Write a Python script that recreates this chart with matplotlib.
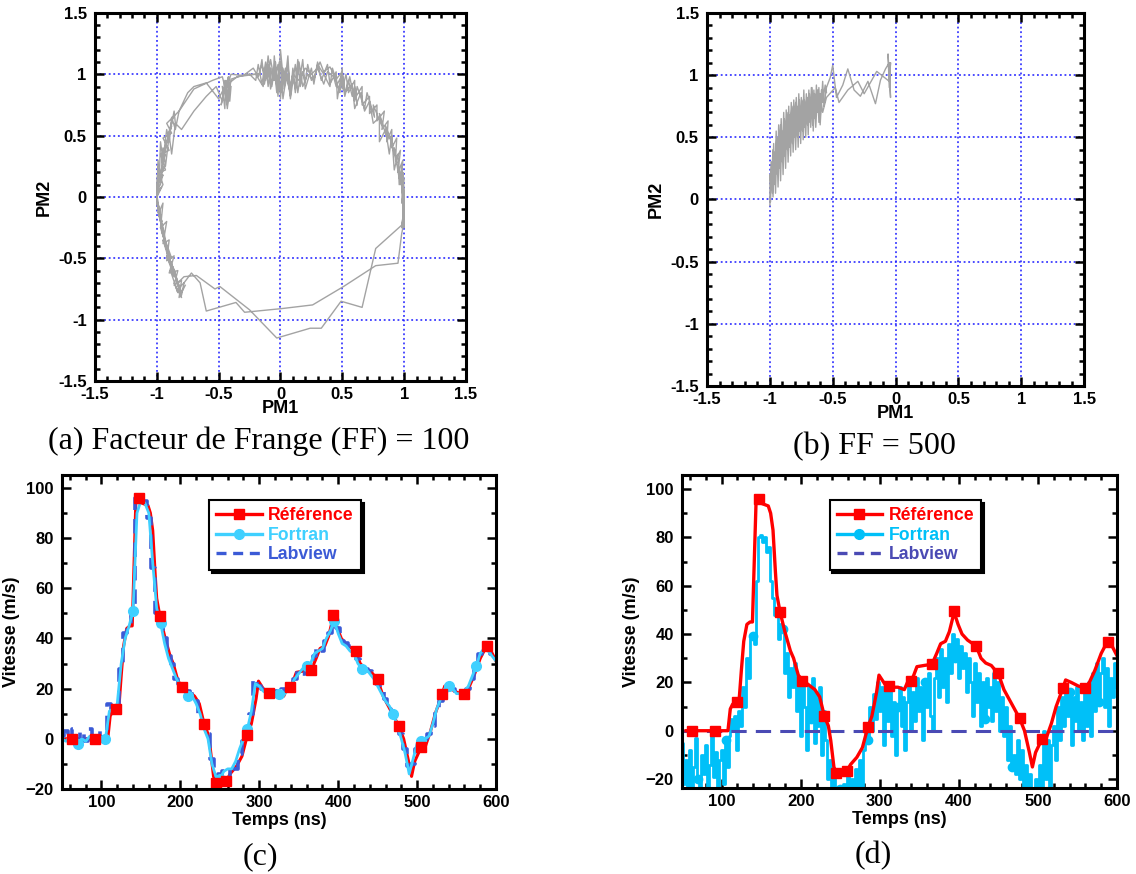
import numpy as np
import matplotlib
matplotlib.use("Agg")
import matplotlib.pyplot as plt
from matplotlib.lines import Line2D
from matplotlib.ticker import MultipleLocator

plt.rcParams['font.family'] = ['Liberation Sans', 'DejaVu Sans']
nan = np.nan

# ---------------- data : (a) FF = 100, PM1 / PM2 loop ----------------
pm1_a = [0.98, 1.0, 0.99, 1.0, 0.98, 1.0, 0.97, 0.99, 0.95, 0.97, 0.93, 0.94, 0.9, 0.9, 0.86, 0.87, 0.82, 0.84,
         0.78, 0.78, 0.72, 0.72, 0.66, 0.66, 0.6, 0.6, 0.55, 0.53, 0.5, 0.5, 0.46, 0.45, 0.4, 0.38, 0.33, 0.3,
         0.27, 0.25, 0.2, 0.18, 0.14, 0.12, 0.08, 0.06, 0.03, 0.0, -0.02, -0.04, -0.07, -0.1, -0.12, -0.15,
         -0.18, -0.22, -0.3, -0.4, -0.45, -0.42, -0.48, -0.45, -0.5, -0.6, -0.7, -0.75, -0.82, -0.85, -0.88,
         -0.9, -0.92, -0.95, -0.97, -0.98, -0.99, -1.0, -0.98, -1.0, -0.97, -0.99, -0.95, -0.97, -0.92, -0.95,
         -0.88, -0.92, -0.85, -0.88, -0.82, -0.85, -0.8, -0.78, -0.72, -0.65, -0.6, -0.36, -0.29, 0.01, 0.26,
         0.51, 0.77, 0.95, 0.98, 1.0,
         0.99, 1.0, 0.98, 1.0, 0.97, 0.99, 0.95, 0.96, 0.92, 0.94, 0.88, 0.91, 0.85, 0.86, 0.8, 0.82, 0.75, 0.76,
         0.7, 0.68, 0.62, 0.6, 0.56, 0.52, 0.5, 0.48, 0.42, 0.4, 0.35, 0.3, 0.27, 0.22, 0.18, 0.15, 0.12, 0.1,
         0.08, 0.05, 0.02, 0.0, -0.03, -0.05, -0.08, -0.1, -0.13, -0.15, -0.17, -0.28, -0.4, -0.43, -0.45, -0.47,
         -0.52, -0.6, -0.7, -0.8, -0.85, -0.88, -0.9, -0.93, -0.95, -0.97, -0.99, -1.0, -0.99, -0.96, -0.98,
         -0.93, -0.96, -0.9, -0.93, -0.87, -0.9, -0.83, -0.86, -0.8, -0.83, -0.78, -0.68, -0.53, -0.49, -0.25,
         -0.03, 0.24, 0.33, 0.49, 0.66, 0.77, 0.98, 1.0,
         0.99, 1.0, 0.98, 0.96, 0.95, 0.92, 0.9, 0.88, 0.85, 0.8, 0.8, 0.75, 0.72, 0.68, 0.65, 0.6, 0.58, 0.52,
         0.5, 0.45, 0.43, 0.38, 0.35, 0.3, 0.25, 0.2, 0.15, 0.1, 0.07, 0.04, 0.0, -0.02, -0.05, -0.08, -0.1,
         -0.12, -0.14, -0.2, -0.35, -0.45, -0.47, -0.55, -0.7, -0.82, -0.92, -0.88, -0.95, -0.9, -0.97, -0.93,
         -0.98, -0.95, -1.0, -0.98, -0.95, -0.97, -0.92, -0.95, -0.9, -0.92, -0.86, -0.9, -0.83, -0.86, -0.8,
         -0.82, -0.77, nan,
         -0.25, -0.2, -0.18, -0.15, -0.12, -0.1, -0.08, -0.06, -0.05, -0.03, -0.01, 0.0, 0.02, 0.04, 0.06, 0.08,
         0.1, 0.12, 0.14, 0.16, 0.18, 0.2, 0.22, 0.25, 0.28, 0.32, 0.35, 0.4, 0.45, 0.5, 0.52, 0.55, 0.58, 0.6,
         0.62, nan,
         -1.0, -0.96, -0.99, -0.95, -0.98, -0.94, -0.97, -0.93, -0.96, -0.92, -0.95, -0.9, -0.93, -0.88, -0.91,
         -0.87, -0.89, -0.86, -0.85, nan,
         -1.0, -0.97, -0.99, -0.94, -0.97, -0.92, -0.95, -0.89, -0.92, -0.86, -0.89, -0.83, -0.86, -0.8, -0.83,
         -0.78, nan,
         -0.47, -0.45, -0.44, -0.43, -0.42, -0.41, -0.4]
pm2_a = [-0.25, -0.1, -0.2, 0.05, -0.05, 0.15, 0.1, 0.3, 0.2, 0.38, 0.3, 0.48, 0.4, 0.55, 0.45, 0.62, 0.55, 0.7,
         0.62, 0.75, 0.68, 0.82, 0.75, 0.9, 0.8, 0.95, 0.85, 1.0, 0.88, 1.05, 0.8, 1.02, 0.92, 1.08, 0.95, 1.1,
         0.92, 1.05, 0.88, 1.12, 0.85, 1.08, 0.8, 1.15, 0.88, 1.2, 0.82, 1.1, 0.9, 1.15, 0.95, 1.08,
         0.98, 1.05, 0.99, 1.0, 0.85, 0.98, 0.75, 0.9, 0.8, 0.93, 0.9, 0.85, 0.7, 0.55, 0.65,
         0.45, 0.55, 0.3, 0.45, 0.15, 0.3, 0.0, 0.2, -0.05, -0.15, -0.05, -0.3, -0.2, -0.42, -0.3,
         -0.5, -0.45, -0.62, -0.55, -0.75, -0.65, -0.8, -0.7, -0.62, -0.7, -0.93, -0.86, -0.94, -0.91, -0.88,
         -0.73, -0.56, -0.54, -0.3, -0.2,
         0.0, -0.25, 0.1, -0.1, 0.2, 0.05, 0.25, 0.15, 0.4, 0.28, 0.5, 0.42, 0.58, 0.48, 0.68, 0.58, 0.75, 0.65,
         0.85, 0.72, 0.9, 0.78, 0.98, 0.82, 0.98, 0.85, 1.05, 0.9, 1.0, 1.08, 0.95, 1.0, 0.9, 1.1, 0.85, 1.05,
         0.82, 1.0, 0.8, 1.1, 0.85, 1.05, 0.88, 1.08, 0.92, 1.12, 1.0, 1.0, 0.96, 0.72, 0.95, 0.78,
         0.9, 0.82, 0.7, 0.55, 0.6, 0.35, 0.5, 0.25, 0.4, 0.1, 0.25, 0.05, -0.1, -0.2, -0.1,
         -0.35, -0.28, -0.48, -0.4, -0.58, -0.5, -0.7, -0.6, -0.78, -0.7, -0.65, -0.64, -0.75, -0.73, -0.92,
         -1.15, -1.07, -1.07, -0.85, -0.9, -0.42, -0.23, -0.1,
         0.2, 0.0, 0.25, 0.1, 0.35, 0.22, 0.5, 0.35, 0.55, 0.45, 0.65, 0.6, 0.78, 0.7, 0.85, 0.72, 0.92, 0.85,
         1.0, 0.9, 0.98, 1.02, 0.92, 1.05, 1.0, 1.05, 0.95, 1.0, 0.88, 1.05, 0.85, 1.08, 0.95, 1.12, 0.98,
         1.05, 0.9, 1.0, 0.98, 0.9, 0.98, 0.95, 0.88, 0.7, 0.6, 0.52, 0.48, 0.38, 0.35, 0.22,
         0.2, 0.1, 0.02, -0.12, -0.05, -0.25, -0.2, -0.38, -0.35, -0.52, -0.48, -0.62, -0.6, -0.72, -0.68,
         -0.82, -0.72, nan,
         1.0, 0.95, 1.08, 0.92, 1.1, 0.9, 1.05, 0.95, 1.15, 0.9, 1.1, 0.8, 1.05, 0.92, 1.08, 0.85,
         1.0, 0.88, 1.12, 0.9, 1.02, 0.93, 1.08, 0.95, 1.0, 1.1, 1.02, 1.06, 0.96, 1.02, 0.85, 0.95, 0.82, 0.9,
         0.75, nan,
         0.0, 0.08, 0.05, 0.18, 0.12, 0.25, 0.2, 0.35, 0.28, 0.42, 0.35, 0.5, 0.42, 0.58, 0.5,
         0.65, 0.55, 0.7, 0.6, nan,
         -0.05, -0.2, -0.12, -0.3, -0.25, -0.42, -0.35, -0.55, -0.48, -0.65, -0.6, -0.78, -0.7, -0.82, -0.75,
         -0.7, nan,
         0.9, 0.72, 0.95, 0.75, 0.98, 0.78, 0.9]

# ---------------- data : (b) FF = 500 ----------------
pm1_b = [-1.0, -0.99, -0.98, -0.97, -0.96, -0.95, -0.94, -0.93, -0.92, -0.91, -0.9, -0.89, -0.88, -0.87, -0.86,
         -0.85, -0.84, -0.83, -0.82, -0.81, -0.8, -0.79, -0.78, -0.77, -0.76, -0.75, -0.74, -0.73, -0.72, -0.71,
         -0.7, -0.69, -0.68, -0.67, -0.66, -0.65, -0.64, -0.63, -0.62, -0.61, -0.6, -0.58, -0.57, -0.55,
         -0.52, -0.5, -0.47, -0.42, -0.38, -0.33, -0.28, -0.22, -0.16, -0.12, -0.08, -0.05, -0.04, -0.06, -0.05,
         -0.04, -0.05,
         -0.15, -0.25, -0.3, -0.38, -0.45, -0.48, -0.55, -0.58, -0.6,
         -0.61, -0.62, -0.635, -0.645, -0.655, -0.665, -0.675, -0.685, -0.695, -0.705, -0.715, -0.725, -0.735,
         -0.745, -0.755, -0.765, -0.775, -0.785, -0.795, -0.805, -0.815, -0.825, -0.835, -0.845, -0.855, -0.865,
         -0.875, -0.885, -0.895, -0.905, -0.915, -0.925, -0.935, -0.945, -0.955, -0.965, -0.975, -0.985, -0.995,
         -1.0,
         -0.99, -0.975, -0.96, -0.945, -0.93, -0.915, -0.9, -0.885, -0.87, -0.855, -0.84, -0.825, -0.81, -0.795,
         -0.78, -0.765, -0.75, -0.735, -0.72, -0.705, -0.69, -0.675, -0.66, -0.645, -0.63, -0.615, -0.6, -0.59,
         -0.58, -0.56, -0.55]
pm2_b = [-0.05, 0.3, 0.05, 0.45, 0.12, 0.55, 0.2, 0.6, 0.25, 0.65, 0.3, 0.7, 0.35, 0.72, 0.4,
         0.75, 0.42, 0.78, 0.45, 0.8, 0.5, 0.82, 0.5, 0.85, 0.55, 0.82, 0.55, 0.88, 0.58, 0.85,
         0.6, 0.88, 0.62, 0.9, 0.6, 0.88, 0.65, 0.92, 0.7, 0.9, 0.6, 0.95, 0.75, 0.9,
         0.98, 1.08, 0.82, 0.92, 1.05, 0.88, 0.83, 0.95, 0.77, 0.96, 1.05, 1.1, 0.82, 1.17, 0.9,
         1.1, 0.95,
         1.03, 0.85, 0.95, 0.88, 0.78, 0.9, 0.82, 0.7, 0.85,
         0.62, 0.88, 0.58, 0.85, 0.55, 0.9, 0.58, 0.85, 0.52, 0.82, 0.5, 0.8, 0.48,
         0.78, 0.45, 0.8, 0.42, 0.75, 0.4, 0.72, 0.38, 0.7, 0.35, 0.68, 0.3, 0.65,
         0.25, 0.6, 0.2, 0.55, 0.15, 0.5, 0.1, 0.45, 0.05, 0.38, 0.02, 0.3, -0.02,
         0.2,
         0.1, 0.4, 0.2, 0.5, 0.3, 0.6, 0.4, 0.65, 0.45, 0.7, 0.5, 0.75, 0.55, 0.78,
         0.6, 0.75, 0.62, 0.8, 0.65, 0.82, 0.68, 0.8, 0.7, 0.85, 0.72, 0.82, 0.65, 0.88,
         0.78, 0.92, 0.86]

# ---------------- data : (c) / (d) velocity vs time ----------------
ref_t = [55, 63, 92, 108, 111, 114, 119, 122, 125, 128, 132, 136, 139, 143.6, 147, 151, 159, 162, 165, 168,
         170, 174, 180, 187, 191, 197, 202, 210, 218, 224, 230, 235, 238, 242, 245, 258, 263, 271, 278, 285,
         290, 296, 299, 303, 307, 312, 323, 331, 335, 339, 343, 347, 356, 366, 372, 377, 383, 388, 394, 399,
         404, 411, 422, 428, 434, 441, 450, 457, 466, 472, 477, 483, 489, 493, 497, 505, 510, 517, 523, 532,
         535, 542, 551, 560, 565, 572, 580, 588, 593, 600]
ref_v = [0, 0, 0, 0, 9, 11, 12, 12, 25, 37, 44, 45, 45, 95, 96, 94, 93, 90, 83, 66,
         56, 49, 41, 33, 30, 23, 21, 19, 17, 14, 6, 2, -4, -15, -17.5, -17, -14, -11, -7, 1.5,
         6, 16, 23, 21, 19, 18, 18, 17, 20, 20, 23, 26.5, 27, 27.5, 32, 36, 37, 41, 49, 44,
         40, 37.5, 35, 30, 28, 27, 23.5, 17, 11.6, 8, 5, 0, -8.7, -15, -9, -3.5, -3.5, 3, 10, 18,
         21, 20, 18.5, 17.6, 20, 25, 32, 37, 35.5, 31]
ref_mark_t = [63, 92, 119, 147, 174, 202, 230, 245, 258, 285, 312, 339, 366, 394, 422, 450, 477, 505, 532, 560, 588]
ref_mark_v = [0, 0, 12, 96, 49, 20.7, 6, -17.5, -16.8, 1.5, 18.3, 20.5, 27.4, 49.5, 35, 23.7, 5.2, -3.4, 17.8, 17.8, 36.9]

t5 = np.arange(50, 601, 5)
labview_c = [1, 3, -1, 4, 0, 3, -1, 4, 1, 3, 0, 2, 14, 12, 13, 28, 42, 44, 52, 96,
             97, 95, 88, 68, 50, 45, 40, 33, 30, 24, 22, 20, 19, 18, 15, 10, 5, 2, -8, -15,
             -14, -13, -16, -11, -12, -6, -1, 4, 10, 24, 21, 20, 19, 18, 19, 18, 20, 19, 21, 24,
             27, 26, 29, 30, 33, 36, 35, 39, 42, 47, 44, 39, 38, 37, 36, 32, 30, 28, 27, 25,
             22, 19, 16, 12, 9, 6, 2, -4, -11, -10, -4, -1, 0, 2, 5, 12, 15, 19, 20, 20,
             18, 18, 18, 20, 24, 29, 34, 37, 36, 34, 32]
fortran_c = [0, -1, 1, -2, -2, 0, -1, 1, 0, 1, -1, 0, 11, 12, 14, 30, 40, 45, 51, 90,
             95, 94, 90, 70, 52, 46, 38, 32, 28, 24, 21, 19, 17, 17, 14, 10, 4, 0, -10, -15,
             -16, -13, -12, -12, -9, -4, 0, 4, 11, 22, 21, 19, 18, 17, 18, 18, 17, 19, 21, 24,
             26, 28, 29, 30, 34, 35, 36, 40, 43, 47, 42, 38, 37, 35, 34, 30, 28, 28, 26, 24,
             21, 18, 15, 13, 10, 5, 0, -6, -14, -8, -2, -1, 0, 1, 6, 12, 16, 20, 21, 20,
             18, 18, 19, 21, 25, 29, 34, 36, 35, 33, 31]
fortran_c_marks = [70, 105, 140, 175, 210, 250, 285, 325, 360, 395, 430, 470, 505, 540, 575]

t25 = np.arange(50, 600.1, 2.5)
fortran_d = [-5, -22, -12, -24, -8, -26, -15, -3, -20, -28, -10, -18, -6, -24, -14, -2, -19, -9, -27, -12,
             -8, -22, -4, -15, -2, 5, 0, 6, -8, 8, 2, 18, 10, 30, 22, 38, 39, 36, 62, 80,
             81, 78, 80, 74, 76, 62, 55, 48, 50, 38, 44, 42, 24, 32, 14, 26, 18, 28, 8, 22,
             -2, 20, 10, -8, 18, 5, 22, -5, 15, 2, 18, -10, 8, -4, -20, -12, -26, -18, -24, -28,
             -24, -30, -22, -27, -18, -28, -20, -25, -16, -28, -12, -26, -8, 2, -4, 10, 0, 15, 5, 20,
             8, 18, -6, 16, 4, 20, -2, 12, -10, 10, 18, 2, 14, -8, 12, 20, 0, 16, 4, 22,
             8, 18, -4, 20, 10, 24, 6, 0, 22, 30, 14, 34, 18, 30, 12, 36, 24, 40, 30, 38,
             22, 35, 26, 32, 16, 30, 20, 6, 28, 12, 24, 2, 20, 5, 22, 10, 18, 4, 24, 8,
             20, 0, 14, -2, 10, -12, 2, -15, -10, -18, -4, -20, -8, -26, -14, -30, -18, -24, -28, -20,
             -26, -14, -30, 0, -20, -4, -26, -6, 2, -12, 10, -4, 14, 2, 18, 6, 16, -6, 14, 4,
             18, 0, 12, -4, 16, 2, 20, -2, 24, 8, 28, 12, 24, 30, 10, 26, 2, 22, 14, 28, 18]
fortran_d_marks = [70, 105, 140, 177.5, 212.5, 250, 285, 322.5, 357.5, 395, 432.5, 467.5, 505, 540, 577.5]
labview_d = [0, 0]
labview_d_t = [50, 600]

panel_labels = ['(a) Facteur de Frange (FF) = 100', '(b) FF = 500', '(c)', '(d)']

# ---------------- figure ----------------
fig = plt.figure(figsize=(11.36, 8.74), dpi=100)
ax_a = fig.add_axes([0.0836, 0.5641, 0.3266, 0.4211])
ax_b = fig.add_axes([0.6224, 0.5584, 0.3319, 0.4268])
ax_c = fig.add_axes([0.0546, 0.0973, 0.3820, 0.3593])
ax_d = fig.add_axes([0.6004, 0.0984, 0.3829, 0.3581])

lab_font = dict(fontsize=13, fontweight='bold')


def frame(ax):
    for s in ax.spines.values():
        s.set_linewidth(2.2)
    ax.tick_params(which='both', direction='in', top=True, right=True, width=1.8)
    ax.tick_params(which='major', length=6.5)
    ax.tick_params(which='minor', length=3.8)
    ax.tick_params(axis='y', pad=6)
    ax.tick_params(axis='x', pad=4)
    for lbl in ax.get_xticklabels() + ax.get_yticklabels():
        lbl.set_fontsize(12)
        lbl.set_fontweight('bold')


# (a) and (b) : phase plots
for ax, x, y in [(ax_a, pm1_a, pm2_a), (ax_b, pm1_b, pm2_b)]:
    ax.plot(x, y, color='#a3a3a3', lw=1.0)
    ax.set_xlim(-1.5, 1.5)
    ax.set_ylim(-1.5, 1.5)
    ax.xaxis.set_minor_locator(MultipleLocator(0.1))
    ax.yaxis.set_minor_locator(MultipleLocator(0.1))
    ax.set_xticks([-1.5, -1, -0.5, 0, 0.5, 1, 1.5])
    ax.set_xticklabels(['-1.5', '-1', '-0.5', '0', '0.5', '1', '1.5'])
    ax.set_yticks([-1.5, -1, -0.5, 0, 0.5, 1, 1.5])
    ax.set_yticklabels(['-1.5', '-1', '-0.5', '0', '0.5', '1', '1.5'])
    ax.grid(True, which='major', color='#1a1aff', lw=1.1, linestyle=(0, (1.2, 1.8)))
    ax.set_xlabel('PM1', labelpad=-1, **lab_font)
    ax.set_ylabel('PM2', labelpad=4, **lab_font)
    frame(ax)

# (c) : all three methods agree
ax_c.plot(ref_t, ref_v, color='#ff0000', lw=2.2)
ax_c.plot(t5, labview_c, color='#3b5ad6', lw=2.6, dashes=(4, 2.5), drawstyle='steps-mid')
fm_c = [int(np.argmin(np.abs(t5 - m))) for m in fortran_c_marks]
ax_c.plot(t5, fortran_c, color='#3fd0ff', lw=2.0, marker='o', markersize=7, markevery=fm_c)
ax_c.plot(ref_mark_t, ref_mark_v, 's', color='#ff0000', markersize=7.5)

# (d) : FF = 500
fm_d = [int(np.argmin(np.abs(t25 - m))) for m in fortran_d_marks]
ax_d.plot(t25, fortran_d, color='#00c0f8', lw=2.0, drawstyle='steps-mid')
ax_d.plot(t25[fm_d], np.array(fortran_d)[fm_d], 'o', color='#00c0f8', markersize=6)
ax_d.plot(labview_d_t, labview_d, color='#4a4ab4', lw=2.2, dashes=(5, 3))
ax_d.plot(ref_t, ref_v, color='#ff0000', lw=2.4)
ax_d.plot(ref_mark_t, ref_mark_v, 's', color='#ff0000', markersize=7.5)

legend_styles = {
    ax_c: [('Référence', '#ff0000', '-', 's'), ('Fortran', '#3fd0ff', '-', 'o'), ('Labview', '#3b5ad6', '--', None)],
    ax_d: [('Référence', '#ff0000', '-', 's'), ('Fortran', '#00c0f8', '-', 'o'), ('Labview', '#4a4ab4', '--', None)],
}

for ax, ylo, yhi in [(ax_c, -20, 105.2), (ax_d, -23.7, 105.8)]:
    ax.set_xlim(50, 600)
    ax.set_ylim(ylo, yhi)
    ax.xaxis.set_major_locator(MultipleLocator(100))
    ax.xaxis.set_minor_locator(MultipleLocator(20))
    ax.yaxis.set_major_locator(MultipleLocator(20))
    ax.yaxis.set_minor_locator(MultipleLocator(10))
    ax.set_xlabel('Temps (ns)', labelpad=2, **lab_font)
    ax.set_ylabel('Vitesse (m/s)', labelpad=4, **lab_font)
    frame(ax)
    handles = []
    for name, col, ls, mk in legend_styles[ax]:
        handles.append(Line2D([], [], color=col, lw=2.4, linestyle=ls, marker=mk, markersize=7,
                              dashes=(3, 2) if ls == '--' else (None, None)))
    leg = ax.legend(handles, [s[0] for s in legend_styles[ax]], loc='upper left',
                    bbox_to_anchor=(0.339, 0.92), borderaxespad=0, numpoints=1,
                    handlelength=2.6, handletextpad=0.35, labelspacing=0.15,
                    frameon=True, fancybox=False, shadow={'color': 'black', 'alpha': 1},
                    edgecolor='black', prop={'weight': 'bold', 'size': 12.7})
    leg.get_frame().set_linewidth(1.5)
    for txt, s in zip(leg.get_texts(), legend_styles[ax]):
        txt.set_color(s[1])

# captions
cap = dict(family=['Liberation Serif', 'DejaVu Serif'], fontsize=23, ha='center', va='center')
fig.text(259 / 1136, 1 - 441 / 874, panel_labels[0], **cap)
fig.text(874 / 1136, 1 - 447 / 874, panel_labels[1], **cap)
fig.text(260 / 1136, 1 - 857 / 874, panel_labels[2], **cap)
fig.text(873 / 1136, 1 - 856 / 874, panel_labels[3], **cap)

fig.savefig('out.png', dpi=100)
